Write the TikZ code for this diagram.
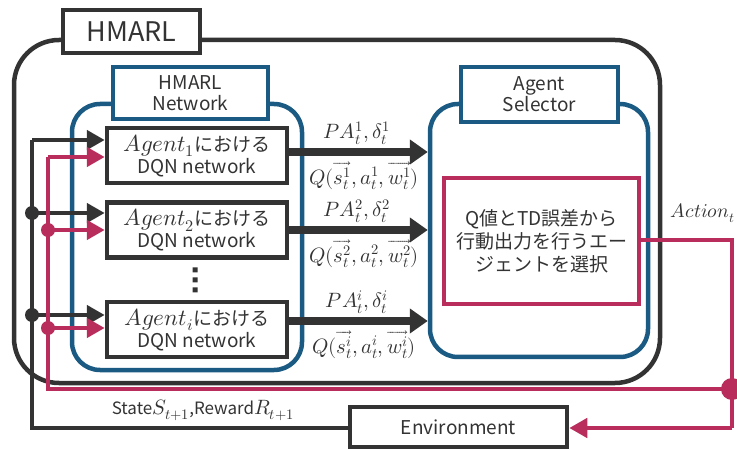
\documentclass[tikz,border=0pt]{standalone}
\usepackage{fontspec}
\usepackage{unicode-math}
\setmainfont{Noto Sans CJK JP}
\setmathfont{Latin Modern Math}[Scale=1.22]
\usetikzlibrary{arrows.meta}
\definecolor{dk}{HTML}{333333}
\definecolor{bl}{HTML}{1B5A82}
\definecolor{pk}{HTML}{B92D5C}
\begin{document}
\begin{tikzpicture}[x=1pt,y=-1pt,
  txt/.style={text=dk,font=\fontsize{19}{23}\selectfont,align=center,inner sep=0},
  dkbox/.style={txt,draw=dk,line width=4.5pt,fill=white},
  blbox/.style={txt,draw=bl,line width=4.5pt,fill=white},
  bigarrow/.style={draw=dk,line width=7.5pt,-{Triangle[length=18pt,width=24pt]}},
  smarrow/.style={line width=4.5pt,-{Triangle[length=18pt,width=19pt]}},
  lab/.style={text=dk,font=\fontsize{17}{20}\selectfont,inner sep=0}]
\useasboundingbox (0,0) rectangle (737,449);
% outer HMARL
\draw[dk,line width=4.5pt,rounded corners=45pt] (14,40) rectangle (660,383);
\node[dkbox,minimum width=137pt,minimum height=43pt,font=\fontsize{27}{30}\selectfont] (hm) at (131.5,31.5) {HMARL};
% HMARL network
\draw[bl,line width=4.5pt,rounded corners=28pt] (72,104) rectangle (302,370);
\node[blbox,minimum width=155pt,minimum height=52pt] (hn) at (190.5,93) {HMARL\\[-2pt]Network};
% agent selector
\node[draw=bl,line width=4.5pt,rounded corners=28pt,minimum width=218pt,minimum height=253pt,inner sep=0] (sel) at (539,230.5) {};
\node[blbox,minimum width=157pt,minimum height=55pt] (sl) at (539.5,94.5) {Agent\\[-2pt]Selector};
\node[txt,draw=pk,line width=4.5pt,fill=white,minimum width=195pt,minimum height=126pt] (pb) at (541.5,241) {Q値とTD誤差から\\行動出力を行うエー\\ジェントを選択};
% agents
\node[dkbox,minimum width=180pt,minimum height=55pt] (a1) at (197,155.5) {$Agent_1$における\\[-1pt]DQN network};
\node[dkbox,minimum width=180pt,minimum height=55pt] (a2) at (197,230) {$Agent_2$における\\[-1pt]DQN network};
\node[dkbox,minimum width=180pt,minimum height=55pt] (ai) at (197,329.5) {$Agent_i$における\\[-1pt]DQN network};
\fill[dk] (192.5,267.5) rectangle ++(5,5) (192.5,277.5) rectangle ++(5,5) (192.5,287.5) rectangle ++(5,5);
% arrows to selector
\coordinate (s1) at (sel.west |- 0,152);
\coordinate (s2) at (sel.west |- 0,230);
\coordinate (si) at (sel.west |- 0,321);
\draw[bigarrow] (a1.east |- s1) -- (s1);
\draw[bigarrow] (a2.east |- s2) -- (s2);
\draw[bigarrow] (ai.east |- si) -- (si);
\node[lab] (p1) at (357,133) {$PA_t^1,\delta_t^1$};
\node[lab] (q1) at (364,176) {$Q(\overrightarrow{s_t^1},a_t^1,\overrightarrow{w_t^1})$};
\node[lab] (p2) at (357,211) {$PA_t^2,\delta_t^2$};
\node[lab] (q2) at (364,254) {$Q(\overrightarrow{s_t^2},a_t^2,\overrightarrow{w_t^2})$};
\node[lab] (pi) at (357,302) {$PA_t^i,\delta_t^i$};
\node[lab] (qi) at (364,345) {$Q(\overrightarrow{s_t^i},a_t^i,\overrightarrow{w_t^i})$};
% environment
\node[dkbox,minimum width=217pt,minimum height=40pt] (env) at (458.5,427) {Environment};
% black feedback
\coordinate (b0) at (32,428);
\coordinate (b1) at (32,140);
\coordinate (b2) at (32,213);
\coordinate (b3) at (32,315);
\draw[dk,line width=4.5pt] (env.west |- b0) -- (b0) -- (b1);
\draw[dk,smarrow] (b1) -- (a1.west |- b1);
\draw[dk,smarrow] (b2) -- (a2.west |- b2);
\draw[dk,smarrow] (b3) -- (ai.west |- b3);
\fill[dk] (b2) circle (7pt) (b3) circle (7pt);
% pink feedback
\coordinate (r0) at (732,240);
\coordinate (r1) at (732,428);
\coordinate (rd) at (732,389);
\coordinate (r2) at (48,389);
\coordinate (r3) at (48,157);
\coordinate (r4) at (48,230);
\coordinate (r5) at (48,328);
\draw[pk,line width=4.5pt] (pb.east |- r0) -- (r0) -- (r1);
\draw[pk,smarrow] (r1) -- (env.east |- r1);
\draw[pk,line width=4.5pt] (rd) -- (r2) -- (r3);
\draw[pk,smarrow] (r3) -- (a1.west |- r3);
\draw[pk,smarrow] (r4) -- (a2.west |- r4);
\draw[pk,smarrow] (r5) -- (ai.west |- r5);
\fill[pk] (r4) circle (7pt) (r5) circle (7pt) (rd) circle (11pt);
% labels
\node[lab,font=\fontsize{16}{20}\selectfont,anchor=east] (act) at (735,213) {$Action_t$};
\node[lab] (st) at (203,410) {State$S_{t+1}$,Reward$R_{t+1}$};
\end{tikzpicture}
\end{document}
